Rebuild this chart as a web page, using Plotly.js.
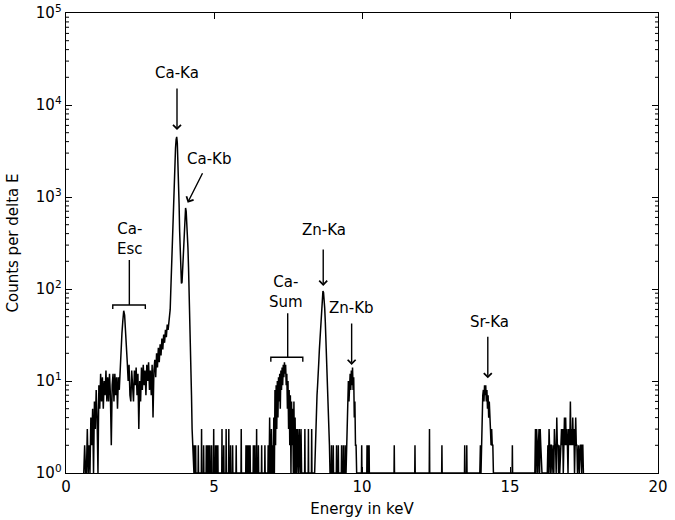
<!DOCTYPE html>
<html>
<head>
<meta charset="utf-8">
<script src="https://cdn.plot.ly/plotly-3.0.1.min.js"></script>
<style>html,body{margin:0;padding:0;background:#fff;}#chart{width:675px;height:520px;}</style>
</head>
<body>
<div id="chart"></div>
<script>
// ---- Data (counts per channel) ----
// Low-energy continuum + Ca escape peak (channel energies from lowStart, spacing lowStep keV)
var lowStart = 0.60, lowStep = 0.03;
var lowCounts = [1,2,1,1,3,1,2,1,4,2,5,1,6,3,8,4,1,9,5,12,6,11,5,10,7,13,6,11,6,12,7,2,9,12,6,12,7,11,5,11,8,14,22,33,45,58,52,38,24,16,10,15,7,6,13,8,6,13,9,14,7,12,3,10,6,14,8,15,9,13,7,15,10,16,8,13,7,15,4,13,17,11,20,14,23,16,25,19,29,22,32,26,36,30,41,36,46];
// Ca-Ka / Ca-Kb peaks
var caStart = 3.50, caStep = 0.02;
var caCounts = [48,60,95,160,270,450,720,1100,1700,2500,3400,4200,4500,3900,2700,1600,850,420,220,140,115,118,160,250,380,520,680,760,700,540,370,280,170,100,60,30,14,7,3,2,1];
// Isolated single-channel counts in the sparse regions
var spikeE = [4.33,4.38,4.47,4.58,4.65,4.74,4.78,4.82,4.86,4.92,4.99,5.05,5.09,5.13,5.27,5.33,5.41,5.50,5.56,5.63,5.75,5.92,6.08,6.12,6.17,6.22,6.33,6.38,6.44,6.50,6.61,6.72,6.83,
              8.07,8.19,8.30,8.97,9.03,9.14,9.20,9.31,9.37,9.43,9.99,10.17,10.21,10.24,11.09,11.79,12.28,12.70,13.47,13.54,15.08];
var spikeC = [2,2,2,3,2,2,2,2,2,2,3,2,2,2,3,2,3,3,2,2,2,3,2,2,2,2,2,2,3,2,2,2,2,
              3,3,3,2,2,2,2,2,2,2,2,2,2,2,2,2,3,2,2,2,2];
// Ca sum peak
var sumStart = 6.86, peakStep = 0.02;
var sumCounts = [1,4,1,1,3,1,2,1,4,1,8,2,9,3,10,4,11,6,12,5,13,8,14,9,15,11,16,12,15,9,12,5,10,3,8,2,7,1,6,2,5,1,6,1,4,1,3,1,3,1,1,3,1,1,3,1];
// Zn-Ka
var znKaStart = 8.40;
var znKaCounts = [1,2,3,5,7,9,11,16,22,29,40,52,64,80,95,92,78,62,44,30,20,13,8,5,3,2,1];
// Zn-Kb
var znKbStart = 9.46;
var znKbCounts = [1,2,5,8,10,6,11,12,8,13,9,14,8,11,4,6,2,2,1];
// Sr-Ka
var srKaStart = 13.98;
var srKaCounts = [1,2,1,3,5,7,8,6,9,7,9,6,8,5,7,4,6,3,3,2,3,2,2,1];
// High-energy cluster
var highStart = 15.84;
var highCounts = [1,3,1,3,2,1,2,3,1,3,2,1,1,1,1,1,1,1,1,1,1,1,2,1,3,2,1,2,2,1,2,2,1,3,2,2,1,4,2,2,1,2,1,2,2,3,2,3,1,2,4,2,4,2,3,2,1,3,2,2,6,2,3,2,4,2,3,1,2,4,2,2,1,2,2,1,2,2,2,1,2,2,1];

// Axis tick labels
var xTicks = [0,5,10,15,20];
var yTickVals = [1,10,100,1000,10000,100000];
var yTickText = ['10<sup>0</sup>','10<sup>1</sup>','10<sup>2</sup>','10<sup>3</sup>','10<sup>4</sup>','10<sup>5</sup>'];
var yMinorMult = [2,3,4,5,6,7,8,9];

// ---- Build the single spectrum trace ----
var pts = [];
function addSeg(start, step, counts){
  counts.forEach(function(c,i){ pts.push([+(start + i*step).toFixed(4), c]); });
}
addSeg(lowStart, lowStep, lowCounts);
addSeg(caStart, caStep, caCounts);
addSeg(sumStart, peakStep, sumCounts);
addSeg(znKaStart, peakStep, znKaCounts);
addSeg(znKbStart, peakStep, znKbCounts);
addSeg(srKaStart, peakStep, srKaCounts);
addSeg(highStart, peakStep, highCounts);
spikeE.forEach(function(e,i){
  pts.push([e-0.008,1]); pts.push([e,spikeC[i]]); pts.push([e+0.008,1]);
});
pts.sort(function(a,b){return a[0]-b[0];});
var xs = pts.map(function(p){return p[0];});
var ys = pts.map(function(p){return p[1];});

var font = {family:'DejaVu Sans, sans-serif', size:15, color:'#000'};
var aFont = {family:'DejaVu Sans, sans-serif', size:15, color:'#000'};

var annotations = [
  {x:3.74, y:4.345, text:'Ca-Ka', showarrow:false},
  {x:4.84, y:3.41, text:'Ca-Kb', showarrow:false},
  {x:2.17, y:2.543, text:'Ca-<br>Esc', showarrow:false},
  {x:7.43, y:1.967, text:'Ca-<br>Sum', showarrow:false},
  {x:8.73, y:2.641, text:'Zn-Ka', showarrow:false},
  {x:9.65, y:1.79, text:'Zn-Kb', showarrow:false},
  {x:14.30, y:1.645, text:'Sr-Ka', showarrow:false},
  {x:3.75, y:3.728, ax:0, ay:-43, text:'', showarrow:true},
  {x:4.11, y:2.938, ax:15.6, ay:-31, text:'', showarrow:true},
  {x:8.69, y:2.033, ax:0, ay:-38, text:'', showarrow:true},
  {x:9.65, y:1.174, ax:0, ay:-43, text:'', showarrow:true},
  {x:14.25, y:1.029, ax:0, ay:-43, text:'', showarrow:true}
].map(function(a){
  a.xref='x'; a.yref='y'; a.font=aFont; a.align='center';
  if(a.showarrow){a.arrowhead=4; a.arrowsize=1.1; a.arrowwidth=1.4; a.arrowcolor='#000'; a.standoff=0; a.startstandoff=0;}
  return a;
});

var shapes = [
  {type:'path', xref:'x', yref:'paper', path:'M 1.58 0.3565 L 1.58 0.3652 L 2.68 0.3652 L 2.68 0.3565 M 2.14 0.3652 L 2.14 0.463', line:{color:'#000', width:1.4}},
  {type:'path', xref:'x', yref:'paper', path:'M 6.92 0.242 L 6.92 0.2515 L 8.0 0.2515 L 8.0 0.242 M 7.49 0.2515 L 7.49 0.3472', line:{color:'#000', width:1.4}}
];
// minor log ticks (inside, on left and right frame)
var tickFrac = 3/592;
yTickVals.slice(0,5).forEach(function(d){
  yMinorMult.forEach(function(m){
    var yp = Math.log10(m*d)/5;
    shapes.push({type:'line', xref:'paper', yref:'paper', x0:0, x1:tickFrac, y0:yp, y1:yp, line:{color:'#000', width:1}});
    shapes.push({type:'line', xref:'paper', yref:'paper', x0:1-tickFrac, x1:1, y0:yp, y1:yp, line:{color:'#000', width:1}});
  });
});

var trace = {x:xs, y:ys, type:'scatter', mode:'lines', line:{color:'#000', width:1.5}, hoverinfo:'skip', showlegend:false};

var layout = {
  width:675, height:520,
  margin:{l:66, r:17, t:13, b:47, pad:0},
  paper_bgcolor:'#fff', plot_bgcolor:'#fff',
  font:font,
  showlegend:false,
  xaxis:{range:[0,20], tickvals:xTicks, ticks:'inside', ticklen:6, tickwidth:1, tickcolor:'#000',
         showline:true, linecolor:'#000', linewidth:1.4, mirror:'ticks', showgrid:false, zeroline:false,
         tickfont:font, title:{text:'Energy in keV', font:font, standoff:8}},
  yaxis:{type:'log', range:[0,5], tickvals:yTickVals, ticktext:yTickText, ticks:'inside', ticklen:6, tickwidth:1, tickcolor:'#000',
         showline:true, linecolor:'#000', linewidth:1.4, mirror:'ticks', showgrid:false, zeroline:false,
         tickfont:font, title:{text:'Counts per delta E', font:font, standoff:13}},
  annotations:annotations,
  shapes:shapes
};

Plotly.newPlot('chart', [trace], layout, {staticPlot:true, displayModeBar:false});
</script>
</body>
</html>
